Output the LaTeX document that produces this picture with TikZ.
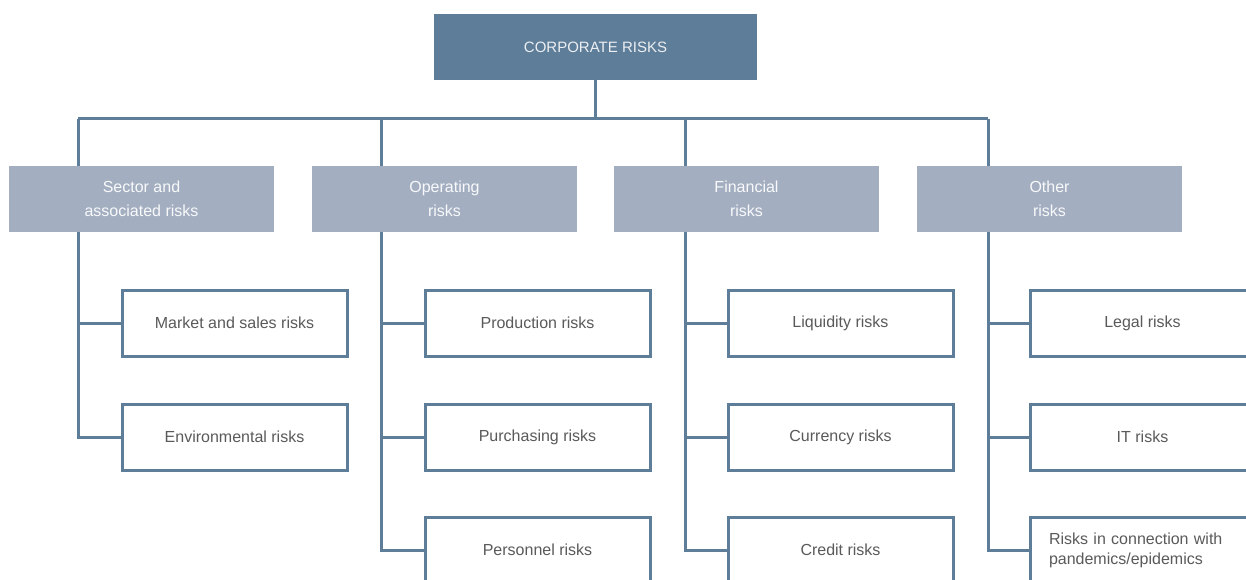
\documentclass[tikz,border=0pt]{standalone}
\usepackage{fontspec}
\setmainfont{Liberation Sans}
\usepackage{tikz}
\usetikzlibrary{positioning}

\definecolor{steel}{HTML}{5E7D98}
\definecolor{mist}{HTML}{A3AEC1}
\definecolor{inkgray}{HTML}{5A5A5A}

\tikzset{
  topbox/.style={fill=steel, draw=none, minimum width=323pt, minimum height=66pt,
    text=white!88!steel, font=\fontsize{15}{18}\selectfont},
  catbox/.style={fill=mist, draw=none, minimum width=265pt, minimum height=66pt,
    align=center, text=white!92!mist, font=\fontsize{16}{24}\selectfont},
  riskbox/.style={fill=white, draw=steel, line width=3pt, minimum width=225pt,
    minimum height=66pt, text=inkgray, font=\fontsize{16}{20}\selectfont},
  link/.style={draw=steel, line width=3pt}
}

\begin{document}
\begin{tikzpicture}[x=1pt, y=-1pt]
			\useasboundingbox (0,0) rectangle (1246,580);
			% bus and branch points
			\coordinate (busA) at (78,119);
			\coordinate (busB) at (381,119);
			\coordinate (busC) at (685,119);
			\coordinate (busD) at (988,119);
			% header and categories
			\node [topbox] (corp) at (595.5,47) {CORPORATE RISKS};
			\node [catbox] (sector) at (141.5,199) {Sector and\\associated risks};
			\node [catbox] (operating) at (444.5,199) {Operating\\risks};
			\node [catbox] (financial) at (746.5,199) {Financial\\risks};
			\node [catbox] (other) at (1049.5,199) {Other\\risks};
			% single risks
			\node [riskbox] (market) at (234.5,323) {Market and sales risks};
			\node [riskbox] (environ) at (234.5,437) {Environmental risks};
			\node [riskbox] (production) at (537.5,323) {Production risks};
			\node [riskbox] (purchasing) at (537.5,437) {Purchasing risks};
			\node [riskbox] (personnel) at (537.5,550) {Personnel risks};
			\node [riskbox] (liquidity) at (840.5,323) {Liquidity risks};
			\node [riskbox] (currency) at (840.5,437) {Currency risks};
			\node [riskbox] (credit) at (840.5,550) {Credit risks};
			\node [riskbox] (legal) at (1142.5,323) {Legal risks};
			\node [riskbox] (it) at (1142.5,437) {IT risks};
			\node [riskbox, text width=187pt, align=left] (pandemic) at (1142.5,550) {Risks in connection with\\pandemics/epidemics};
			% connectors
			\draw [link] (corp.south) -- (corp.south |- busA);
			\draw [link] (busA) -- (busD);
			\draw [link] (busA) -- (busA |- sector.north);
			\draw [link] (busB) -- (busB |- operating.north);
			\draw [link] (busC) -- (busC |- financial.north);
			\draw [link] (busD) -- (busD |- other.north);
			\draw [link] (busA |- sector.south) |- (environ.west);
			\draw [link] (busA |- market.west) -- (market.west);
			\draw [link] (busB |- operating.south) |- (personnel.west);
			\draw [link] (busB |- production.west) -- (production.west);
			\draw [link] (busB |- purchasing.west) -- (purchasing.west);
			\draw [link] (busC |- financial.south) |- (credit.west);
			\draw [link] (busC |- liquidity.west) -- (liquidity.west);
			\draw [link] (busC |- currency.west) -- (currency.west);
			\draw [link] (busD |- other.south) |- (pandemic.west);
			\draw [link] (busD |- legal.west) -- (legal.west);
			\draw [link] (busD |- it.west) -- (it.west);
		\end{tikzpicture}
\end{document}
